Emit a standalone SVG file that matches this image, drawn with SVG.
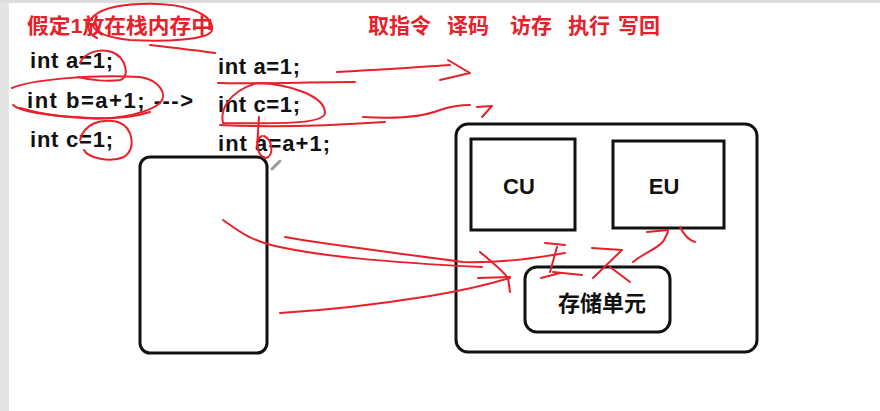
<svg xmlns="http://www.w3.org/2000/svg" width="880" height="411" viewBox="0 0 880 411">
<defs>
<style>
.code{font-family:"Liberation Sans",Arial,sans-serif;font-weight:bold;font-size:22px;fill:#111}
.red{font-family:"Liberation Sans","Noto Sans CJK SC",sans-serif;font-weight:bold;font-size:21px;fill:#e8202a}
.lbl{font-family:"Liberation Sans","Noto Sans CJK SC",sans-serif;font-weight:bold;font-size:22px;fill:#111}
.box{fill:none;stroke:#111;stroke-width:3}
.ink{fill:none;stroke:#e8202a;stroke-width:2;stroke-linecap:round;stroke-linejoin:round}
</style>
</defs>
<rect x="0" y="0" width="880" height="411" fill="#ffffff"/>
<rect x="0" y="0" width="9" height="411" fill="#e4e4e4"/>
<rect x="0" y="0" width="880" height="3" fill="#dcdcdc"/>

<g id="title">
<text class="red" x="27" y="33" textLength="186" lengthAdjust="spacingAndGlyphs">假定1放在栈内存中</text>
</g>
<g id="stages">
<text class="red" x="368" y="33">取指令</text>
<text class="red" x="447" y="33">译码</text>
<text class="red" x="510" y="33">访存</text>
<text class="red" x="568" y="33">执行</text>
<text class="red" x="618" y="33">写回</text>
</g>
<g id="code-left">
<text class="code" x="30" y="68" textLength="83" lengthAdjust="spacing">int a=1;</text>
<text class="code" x="27" y="108" textLength="166" lengthAdjust="spacing">int b=a+1; ---&gt;</text>
<text class="code" x="30" y="147" textLength="83" lengthAdjust="spacing">int c=1;</text>
</g>
<g id="code-right">
<text class="code" x="218" y="74" textLength="82" lengthAdjust="spacing">int a=1;</text>
<text class="code" x="218" y="112" textLength="82" lengthAdjust="spacing">int c=1;</text>
<text class="code" x="218" y="151" textLength="112" lengthAdjust="spacing">int a=a+1;</text>
</g>
<g id="stack">
<rect class="box" x="140" y="157" width="127" height="196" rx="10"/>
</g>
<g id="cpu">
<rect class="box" x="456" y="124" width="301" height="228" rx="12"/>
</g>
<g id="cu">
<rect class="box" x="471" y="139" width="104" height="91"/>
<text class="lbl" x="519" y="194" text-anchor="middle">CU</text>
</g>
<g id="eu">
<rect class="box" x="613" y="141" width="111" height="87"/>
<text class="lbl" x="664" y="194" text-anchor="middle">EU</text>
</g>
<g id="storage">
<rect class="box" x="525" y="267" width="145" height="65" rx="12"/>
<text class="lbl" x="602" y="311" text-anchor="middle">存储单元</text>
</g>
<g id="cursor">
<line x1="272" y1="169" x2="280" y2="161" stroke="#9a9a9a" stroke-width="3" stroke-linecap="round"/>
</g>
<g id="connectors">
<path class="ink" d="M97 38 C80 30 84 6 140 4 C185 2 214 14 212 30 C210 40 165 42 130 40 C110 38 95 34 92 24 M150 45 C175 48 195 50 215 53"/>
<path class="ink" d="M80 63 C85 52 100 48 112 52 C127 58 130 78 120 80 C108 82 90 80 78 77"/>
<path class="ink" d="M12 88 C30 80 90 74 140 77 C160 80 168 95 160 103 C150 112 120 120 90 118 C50 116 20 112 13 105"/>
<path class="ink" d="M20 108 C60 120 120 122 150 112"/>
<path class="ink" d="M80 140 C84 124 100 118 118 122 C134 128 136 150 124 157 C110 163 88 158 84 150"/>
<path class="ink" d="M218 83 C260 84 310 82 355 82"/>
<path class="ink" d="M257 83 C290 84 325 96 325 113 C324 123 290 124 223 123 C220 110 228 92 257 83"/>
<path class="ink" d="M220 125 C280 128 340 125 385 122"/>
<path class="ink" d="M259 117 L257 147 M262 136 C255 138 256 156 266 158 C274 156 273 140 264 136"/>
<path class="ink" d="M337 72 C380 70 420 67 450 65 M448 60 L470 73 L440 80"/>
<path class="ink" d="M363 117 C395 119 420 118 440 110 C452 106 462 105 470 105 M477 107 L492 106 L482 117"/>
<path class="ink" d="M223 220 C240 232 250 240 275 246 C320 256 380 262 482 267"/>
<path class="ink" d="M285 237 C330 245 390 252 463 262 C500 263 530 259 565 253"/>
<path class="ink" d="M480 252 C492 262 502 270 508 278 L510 292 M478 278 L510 277"/>
<path class="ink" d="M280 313 C330 310 380 304 430 296 C460 291 490 284 510 278"/>
<path class="ink" d="M545 243 L565 245 M557 247 L550 272 M541 278 L560 273 M553 272 L582 275"/>
<path class="ink" d="M592 248 L622 250 L593 278 M610 267 L630 282"/>
<path class="ink" d="M633 262 C645 252 660 248 664 240 L668 232 M647 232 L668 230"/>
<path class="ink" d="M680 227 C684 235 688 240 695 242"/>
</g>
</svg>
